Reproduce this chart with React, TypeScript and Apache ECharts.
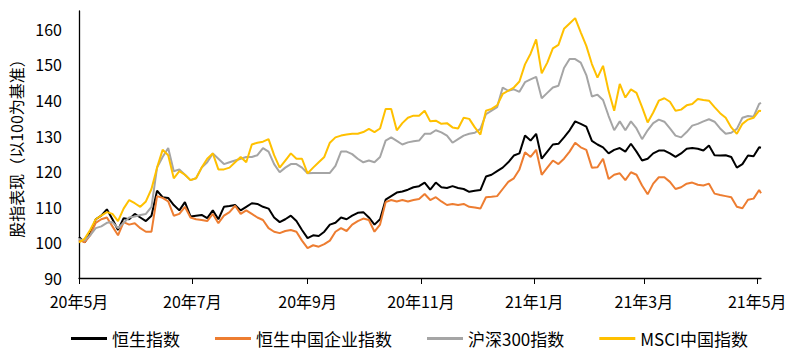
import React, { useEffect, useRef } from "react";
import * as echarts from "echarts";

const dates = [
  "2020-05-01","2020-05-04","2020-05-07","2020-05-10","2020-05-13","2020-05-16","2020-05-19","2020-05-22","2020-05-25","2020-05-28",
  "2020-05-31","2020-06-03","2020-06-06","2020-06-09","2020-06-12","2020-06-15","2020-06-18","2020-06-21","2020-06-24","2020-06-27",
  "2020-06-30","2020-07-03","2020-07-06","2020-07-09","2020-07-12","2020-07-15","2020-07-18","2020-07-21","2020-07-24","2020-07-27",
  "2020-07-30","2020-08-02","2020-08-05","2020-08-08","2020-08-11","2020-08-14","2020-08-17","2020-08-20","2020-08-23","2020-08-26",
  "2020-08-29","2020-09-01","2020-09-04","2020-09-07","2020-09-10","2020-09-13","2020-09-16","2020-09-19","2020-09-22","2020-09-25",
  "2020-09-28","2020-10-01","2020-10-04","2020-10-07","2020-10-10","2020-10-13","2020-10-16","2020-10-19","2020-10-22","2020-10-25",
  "2020-10-28","2020-10-31","2020-11-03","2020-11-06","2020-11-09","2020-11-12","2020-11-15","2020-11-18","2020-11-21","2020-11-24",
  "2020-11-27","2020-11-30","2020-12-03","2020-12-06","2020-12-09","2020-12-12","2020-12-15","2020-12-18","2020-12-21","2020-12-24",
  "2020-12-27","2020-12-30","2021-01-02","2021-01-05","2021-01-08","2021-01-11","2021-01-14","2021-01-17","2021-01-20","2021-01-23",
  "2021-01-26","2021-01-29","2021-02-01","2021-02-04","2021-02-07","2021-02-10","2021-02-13","2021-02-16","2021-02-19","2021-02-22",
  "2021-02-25","2021-02-28","2021-03-03","2021-03-06","2021-03-09","2021-03-12","2021-03-15","2021-03-18","2021-03-21","2021-03-24",
  "2021-03-27","2021-03-30","2021-04-02","2021-04-05","2021-04-08","2021-04-11","2021-04-14","2021-04-17","2021-04-20","2021-04-23",
  "2021-04-26","2021-04-29","2021-05-02","2021-05-03",
];

const hsi = [
  101.5,100.0,102.5,106.5,107.5,109.3,106.5,103.5,106.8,106.5,
  108.0,107.0,106.0,107.5,114.5,112.7,112.5,110.5,109.0,111.3,
  107.3,107.5,107.7,106.8,109.0,106.5,110.0,110.2,110.5,109.0,
  110.0,111.0,110.8,110.0,109.5,107.0,105.7,106.5,107.5,106.0,
  103.5,101.2,102.0,101.8,103.0,105.0,105.5,107.0,106.5,107.5,
  108.3,108.5,107.0,105.0,106.5,112.0,113.0,114.0,114.3,114.8,
  115.5,115.8,116.8,114.8,116.8,115.5,115.3,115.8,115.3,115.0,
  114.2,114.5,114.7,118.5,119.0,120.0,121.0,122.5,124.4,125.0,
  130.0,128.6,130.5,123.5,125.5,127.5,127.7,129.5,131.5,134.0,
  133.3,132.5,128.5,127.5,126.7,125.0,126.0,126.5,125.5,127.7,
  125.5,123.0,123.5,125.0,125.8,125.8,125.0,124.0,125.0,126.3,
  126.5,126.3,125.8,127.2,124.5,124.4,124.5,124.0,121.0,122.0,
  124.4,124.2,126.7,126.6,
];

const hscei = [
  100.7,100.0,102.0,105.5,106.5,107.0,104.5,102.0,105.7,105.0,
  105.4,104.0,103.0,103.0,113.0,112.5,111.5,107.5,108.0,110.0,
  107.0,106.5,106.3,106.0,108.0,105.4,107.5,108.5,110.3,108.0,
  109.0,108.0,107.0,106.3,104.0,103.0,102.6,103.2,103.5,103.0,
  100.5,98.4,99.2,98.8,99.5,100.5,103.0,104.0,103.2,105.0,
  106.0,106.7,106.3,103.0,105.0,111.3,111.9,111.5,111.9,111.5,
  111.9,112.2,113.6,111.9,112.7,111.5,110.5,110.8,110.5,110.8,
  110.0,109.8,109.5,112.7,112.8,113.0,115.0,117.0,118.0,120.5,
  125.3,124.0,126.0,119.0,121.0,123.0,122.0,123.5,125.5,128.0,
  126.7,126.0,121.0,121.1,123.5,117.8,119.0,119.4,117.5,119.7,
  119.0,116.0,113.5,116.5,118.3,118.3,117.0,115.0,115.5,116.5,
  116.8,116.2,116.0,116.5,113.7,113.3,113.0,112.7,110.0,109.6,
  112.0,112.3,114.7,113.8,
];

const csi300 = [
  101.0,100.5,102.0,104.0,104.5,105.5,105.7,104.0,105.5,107.0,
  107.3,107.7,108.0,110.0,121.0,124.0,126.5,120.0,120.5,119.0,
  117.5,118.0,121.0,122.5,125.0,123.5,122.0,122.5,123.0,123.5,
  124.0,124.0,124.5,126.5,125.5,122.0,119.7,121.0,122.0,122.0,
  121.0,119.4,119.5,119.5,119.5,119.5,121.5,125.5,125.5,124.8,
  123.5,122.5,123.0,122.5,124.0,128.6,129.5,128.5,127.5,128.1,
  128.4,128.6,130.5,130.5,131.5,130.9,130.0,128.0,129.0,130.0,
  130.5,130.8,131.9,136.0,137.0,138.0,143.5,142.6,143.0,142.3,
  145.0,145.8,146.5,140.5,142.0,143.5,144.0,149.0,151.5,151.5,
  150.5,147.0,141.0,141.5,140.0,135.5,131.5,134.0,131.5,134.0,
  132.0,129.0,131.5,133.5,134.5,133.9,132.0,130.0,129.5,131.0,
  132.8,133.3,134.0,134.6,133.9,132.0,130.5,130.8,131.9,135.0,
  135.5,135.3,138.9,139.2,
];

const msci = [
  100.0,101.0,103.5,106.5,107.5,108.5,108.0,106.0,109.5,111.9,
  111.0,110.0,111.5,115.0,121.0,126.0,124.5,118.0,120.0,119.0,
  117.5,118.0,121.0,123.5,125.0,120.5,120.5,121.0,122.5,124.0,
  122.5,127.5,128.0,128.3,129.0,124.5,121.0,123.0,125.0,123.5,
  123.5,119.4,121.0,122.5,124.0,128.0,129.5,130.0,130.3,130.5,
  130.5,131.0,131.9,131.0,132.0,137.5,137.5,131.5,133.5,135.0,
  135.6,135.6,137.0,134.0,134.2,133.3,133.5,132.3,132.0,135.0,
  134.7,132.3,130.3,137.0,137.5,138.5,141.7,142.6,143.5,145.2,
  150.0,153.0,157.0,147.5,150.5,154.5,155.5,160.0,161.5,163.0,
  159.0,155.2,150.1,146.3,149.6,142.5,137.0,144.5,140.7,143.0,
  142.0,138.0,133.7,136.5,139.8,140.5,139.5,137.0,137.3,138.5,
  138.9,140.3,140.0,139.8,138.0,136.3,135.0,132.3,130.5,133.3,
  134.5,135.0,137.0,136.9,
];

const seriesNames = ["恒生指数", "恒生中国企业指数", "沪深300指数", "MSCI中国指数"];
const seriesColors = ["#000000", "#ED7D31", "#A5A5A5", "#FFC000"];
const tickDates = ["2020-05-01", "2020-07-01", "2020-09-01", "2020-11-01", "2021-01-01", "2021-03-01", "2021-05-01"];
const tickLabels = ["20年5月", "20年7月", "20年9月", "20年11月", "21年1月", "21年3月", "21年5月"];
const axisStart = "2020-05-01";
const axisEnd = "2021-05-03";
const yName = "股指表现（以100为基准）";

function toTs(s: string): number {
  const [y, m, d] = s.split("-").map(Number);
  return Date.UTC(y, m - 1, d);
}

export default function App() {
  const ref = useRef<HTMLDivElement>(null);
  useEffect(() => {
    if (!ref.current) return;
    const chart = echarts.init(ref.current, null, { renderer: "svg" });
    const font = "'Noto Sans CJK SC', 'Noto Sans', sans-serif";
    const tickTs = tickDates.map(toTs);
    const allSeries = [hsi, hscei, csi300, msci];
    chart.setOption({
      animation: false,
      backgroundColor: "#ffffff",
      textStyle: { fontFamily: font },
      grid: { left: 79, right: 33, top: 11, bottom: 83 },
      legend: {
        left: 66,
        top: 325,
        icon: "rect",
        itemWidth: 36,
        itemHeight: 3,
        itemGap: 35,
        textStyle: { fontSize: 17, color: "#000", fontFamily: font },
        data: seriesNames,
      },
      xAxis: {
        type: "value",
        min: toTs(axisStart),
        max: toTs(axisEnd),
        axisLine: { show: true, lineStyle: { color: "#000", width: 1.3 } },
        axisTick: { show: true, length: 6, lineStyle: { color: "#000" }, customValues: tickTs },
        axisLabel: {
          customValues: tickTs,
          margin: 15,
          fontSize: 16,
          color: "#000",
          fontFamily: font,
          formatter: (v: number) => {
            const i = tickTs.indexOf(v);
            return i >= 0 ? tickLabels[i] : "";
          },
        },
        splitLine: { show: false },
      },
      yAxis: {
        type: "value",
        min: 90,
        max: 165,
        interval: 10,
        name: yName,
        nameLocation: "middle",
        nameGap: 54,
        nameTextStyle: { fontSize: 16, color: "#000", fontFamily: font },
        axisLine: { show: true, lineStyle: { color: "#000", width: 1.3 } },
        axisTick: { show: false },
        axisLabel: {
          fontSize: 16,
          color: "#000",
          margin: 17,
          fontFamily: font,
          showMaxLabel: false,
          formatter: (v: number) => (v > 160 ? "" : String(v)),
        },
        splitLine: { show: false },
      },
      series: seriesNames.map((name, si) => ({
        name,
        type: "line",
        symbol: "none",
        color: seriesColors[si],
        lineStyle: { color: seriesColors[si], width: 2 },
        data: dates.map((d, i) => [toTs(d), allSeries[si][i]]),
      })),
    });
    return () => chart.dispose();
  }, []);
  return (
    <div
      ref={ref}
      style={{ position: "fixed", left: 0, top: 0, width: 794, height: 361, background: "#fff" }}
    />
  );
}
